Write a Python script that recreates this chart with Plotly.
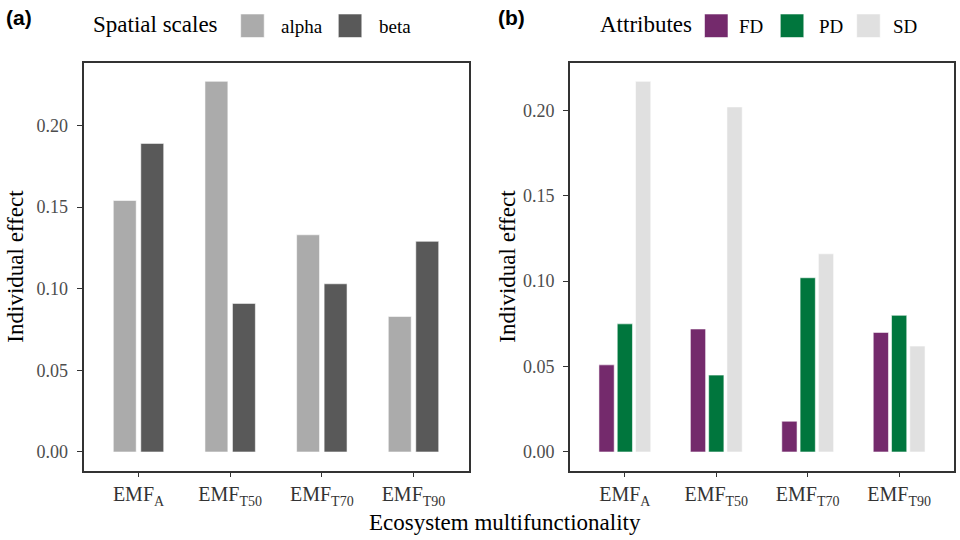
import plotly.graph_objects as go

# ---- data ----
categories = ["EMF<sub>A</sub>", "EMF<sub>T50</sub>", "EMF<sub>T70</sub>", "EMF<sub>T90</sub>"]
scale_names = ["alpha", "beta"]
alpha = [0.154, 0.227, 0.133, 0.083]
beta = [0.189, 0.091, 0.103, 0.129]
attr_names = ["FD", "PD", "SD"]
FD = [0.051, 0.072, 0.018, 0.070]
PD = [0.075, 0.045, 0.102, 0.080]
SD = [0.217, 0.202, 0.116, 0.062]

scale_colors = ["#ababab", "#595959"]
attr_colors = ["#742a6c", "#00763d", "#e0e0e0"]

W, H = 960, 540
SERIF = "Liberation Serif, Times New Roman, serif"
SANS = "Liberation Sans, Arial, sans-serif"
TXT = "#333333"

fig = go.Figure()

for name, vals, col in zip(scale_names, [alpha, beta], scale_colors):
    fig.add_trace(go.Bar(x=categories, y=vals, name=name, marker_color=col,
                         marker_line=dict(color="rgba(255,255,255,0.7)", width=0.8),
                         xaxis="x", yaxis="y", showlegend=False))
for name, vals, col in zip(attr_names, [FD, PD, SD], attr_colors):
    fig.add_trace(go.Bar(x=categories, y=vals, name=name, marker_color=col,
                         marker_line=dict(color="rgba(255,255,255,0.7)", width=0.8),
                         xaxis="x2", yaxis="y2", showlegend=False))

ya_max = max(alpha + beta)
yb_max = max(FD + PD + SD)

def px(x):
    return x / W

def py(y):
    return 1 - y / H

ydom = [py(470.5), py(62.8)]
common_x = dict(type="category", range=[-0.6, 3.6], showline=True, mirror=True,
                linecolor="#333333", linewidth=1.6, ticks="outside", ticklen=5,
                tickcolor="#333333", tickwidth=1.2, showgrid=False, zeroline=False,
                tickfont=dict(family=SERIF, size=20, color=TXT))
common_y = dict(showline=True, mirror=True, linecolor="#333333", linewidth=1.6,
                ticks="outside", ticklen=5, tickcolor="#333333", tickwidth=1.2,
                showgrid=False, zeroline=False, dtick=0.05, tick0=0, tickformat=".2f",
                ticklabelstandoff=5,
                tickfont=dict(family=SERIF, size=18, color="#4d4d4d"), domain=ydom)

fig.update_layout(
    width=W, height=H, margin=dict(l=0, r=0, t=0, b=0),
    paper_bgcolor="white", plot_bgcolor="white",
    barmode="group", bargap=0.4, bargroupgap=1/6,
    xaxis=dict(domain=[px(83.5), px(468.5)], anchor="y", **common_x),
    yaxis=dict(anchor="x", range=[-0.05 * ya_max, 1.05 * ya_max], **common_y),
    xaxis2=dict(domain=[px(570), px(954)], anchor="y2", **common_x),
    yaxis2=dict(anchor="x2", range=[-0.05 * yb_max, 1.05 * yb_max], **common_y),
)

ann = []
shapes = []
# panel labels
ann.append(dict(text="<b>(a)</b>", x=px(4), y=py(18), xref="paper", yref="paper",
                xanchor="left", yanchor="middle", showarrow=False,
                font=dict(family=SANS, size=21, color="black")))
ann.append(dict(text="<b>(b)</b>", x=px(496), y=py(18), xref="paper", yref="paper",
                xanchor="left", yanchor="middle", showarrow=False,
                font=dict(family=SANS, size=21, color="black")))
# axis titles
ann.append(dict(text="Ecosystem multifunctionality", x=px(505), y=py(522),
                xref="paper", yref="paper", xanchor="center", yanchor="middle",
                showarrow=False, font=dict(family=SERIF, size=23, color="black")))
for xc in [16, 508]:
    ann.append(dict(text="Individual effect", x=px(xc), y=(ydom[0] + ydom[1]) / 2,
                    xref="paper", yref="paper", xanchor="center", yanchor="middle",
                    textangle=-90, showarrow=False,
                    font=dict(family=SERIF, size=23, color="black")))

# legends (manual, ggplot-style)
def legend(title, title_x, names, colors, key_x, text_x):
    ann.append(dict(text=title, x=px(title_x), y=py(25), xref="paper", yref="paper",
                    xanchor="left", yanchor="middle", showarrow=False,
                    font=dict(family=SERIF, size=23, color="black")))
    for n, c, kx, tx in zip(names, colors, key_x, text_x):
        shapes.append(dict(type="rect", xref="paper", yref="paper",
                           x0=px(kx), x1=px(kx + 23.5), y0=py(37.5), y1=py(14),
                           fillcolor=c, line=dict(color="rgba(255,255,255,0.7)", width=0.8)))
        ann.append(dict(text=n, x=px(tx), y=py(26), xref="paper", yref="paper",
                        xanchor="left", yanchor="middle", showarrow=False,
                        font=dict(family=SERIF, size=19, color="black")))

legend("Spatial scales", 91, scale_names, scale_colors, [240.7, 338.3], [279, 377])
legend("Attributes", 598, attr_names, attr_colors, [704.5, 780.3, 856.7], [737, 817, 891])

fig.update_layout(annotations=ann, shapes=shapes)
fig.write_html("out.html", config={"displayModeBar": False},
               post_script="document.body.style.margin='0px';"
                           "document.body.style.overflow='hidden';")
